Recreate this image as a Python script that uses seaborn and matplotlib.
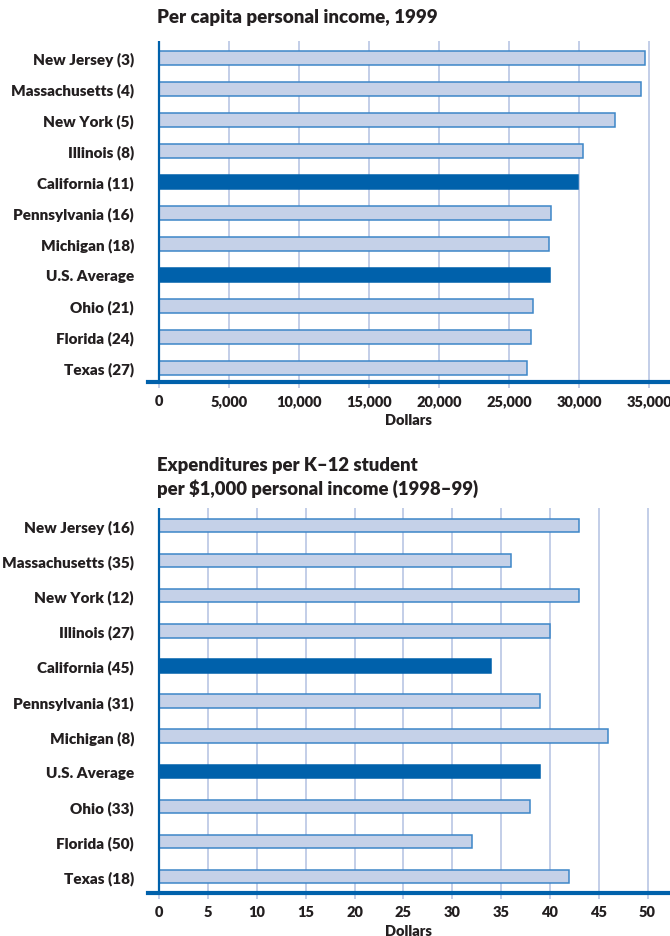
import matplotlib
matplotlib.use('Agg')
import matplotlib.pyplot as plt
import seaborn as sns

# data
income_labels = ['New Jersey (3)', 'Massachusetts (4)', 'New York (5)', 'Illinois (8)',
                 'California (11)', 'Pennsylvania (16)', 'Michigan (18)', 'U.S. Average',
                 'Ohio (21)', 'Florida (24)', 'Texas (27)']
income_values = [34700, 34400, 32600, 30300, 29900, 28000, 27850, 27900, 26700, 26550, 26300]

spend_labels = ['New Jersey (16)', 'Massachusetts (35)', 'New York (12)', 'Illinois (27)',
                'California (45)', 'Pennsylvania (31)', 'Michigan (8)', 'U.S. Average',
                'Ohio (33)', 'Florida (50)', 'Texas (18)']
spend_values = [43, 36, 43, 40, 34, 39, 46, 39, 38, 32, 42]

highlight = ['California', 'U.S. Average']

income_ticks = [0, 5000, 10000, 15000, 20000, 25000, 30000, 35000]
income_ticklabels = ['0', '5,000', '10,000', '15,000', '20,000', '25,000', '30,000', '35,000']
spend_ticks = [0, 5, 10, 15, 20, 25, 30, 35, 40, 45, 50]

DARK = '#0061ab'
LIGHT = '#c5d1e8'
EDGE = '#3d86c8'
GRID = '#b9c6e4'
TEXT = '#231f20'
WEIGHT = 'heavy'

sns.set_theme(style='white')
plt.rcParams['font.family'] = ['Lato', 'DejaVu Sans']
plt.rcParams['font.weight'] = WEIGHT

W, H = 670, 937
fig = plt.figure(figsize=(W / 100, H / 100), dpi=100)


def px_axes(left, top, right, bottom):
    return fig.add_axes([left / W, 1 - bottom / H, (right - left) / W, (bottom - top) / H])


def draw(ax, labels, values, bar_w, ticks, ticklabels, xlim, ylim):
    pal = {lab: (DARK if any(lab.startswith(h) for h in highlight) else LIGHT) for lab in labels}
    sns.barplot(x=values, y=labels, hue=labels, palette=pal, legend=False,
                width=bar_w, edgecolor=EDGE, linewidth=1.1, saturation=1, ax=ax, zorder=3)
    for p, lab in zip(ax.patches, labels):
        if pal[lab] == DARK:
            p.set_edgecolor(DARK)
    ax.set_xlim(*xlim)
    ax.set_ylim(*ylim)
    ax.set_xticks(ticks)
    ax.set_xticklabels(ticklabels)
    ax.xaxis.grid(True, color=GRID, linewidth=1.2, zorder=0)
    ax.yaxis.grid(False)
    ax.axvline(0, color=DARK, linewidth=1.6, zorder=4)
    for s in ['top', 'right', 'left']:
        ax.spines[s].set_visible(False)
    ax.spines['bottom'].set_color(DARK)
    ax.spines['bottom'].set_linewidth(3)
    ax.spines['bottom'].set_zorder(5)
    ax.tick_params(axis='x', colors=GRID, length=4, width=1.2, pad=5, labelsize=10.5,
                   labelcolor=TEXT, direction='out', bottom=True)
    ax.tick_params(axis='y', length=0, pad=10, labelsize=11, labelcolor=TEXT)
    for t in ax.get_xticklabels() + ax.get_yticklabels():
        t.set_fontweight(WEIGHT)
    ax.set_ylabel('')
    ax.set_xlabel('Dollars', fontsize=10.5, fontweight=WEIGHT, color=TEXT, labelpad=4)


ax1 = px_axes(148, 42, 669, 383)
draw(ax1, income_labels, income_values, 0.45, income_ticks, income_ticklabels,
     (-786, 36430), (10.46, -0.54))

ax2 = px_axes(148, 509, 669, 894)
draw(ax2, spend_labels, spend_values, 0.38, spend_ticks, [str(t) for t in spend_ticks],
     (-1.16, 52.2), (10.47, -0.5))

fig.text(157 / W, 1 - 18 / H, 'Per capita personal income, 1999', fontsize=13.5,
         fontweight=WEIGHT, color=TEXT, va='center', ha='left')
fig.text(157 / W, 1 - 466 / H, 'Expenditures per K\u201312 student', fontsize=13.3,
         fontweight=WEIGHT, color=TEXT, va='center', ha='left')
fig.text(157 / W, 1 - 489 / H, 'per $1,000 personal income (1998\u201399)', fontsize=13.3,
         fontweight=WEIGHT, color=TEXT, va='center', ha='left')

fig.savefig('out.png', dpi=100, facecolor='white')
